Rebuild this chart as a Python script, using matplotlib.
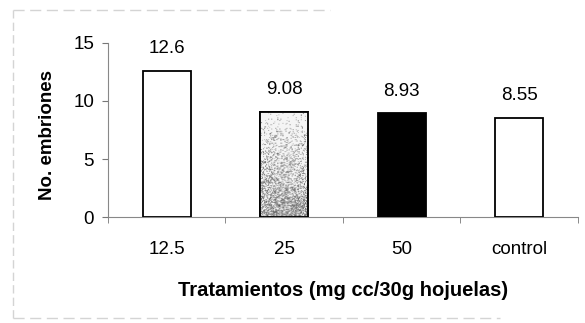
import numpy as np
import matplotlib
matplotlib.use("Agg")
import matplotlib.pyplot as plt
from matplotlib.lines import Line2D

plt.rcParams["font.family"] = ["Liberation Sans", "DejaVu Sans"]

# datos: embriones por tratamiento
tratamientos = ["12.5", "25", "50", "control"]
embriones = [12.6, 9.08, 8.93, 8.55]
etiquetas = ["12.6", "9.08", "8.93", "8.55"]
rellenos = ["white", "#e0e0e0", "black", "white"]

fig = plt.figure(figsize=(5.85, 3.23), dpi=100)
ax = fig.add_axes([0.1846, 0.328, 0.8034, 0.539])

x = np.arange(len(tratamientos))
barras = ax.bar(x, embriones, width=0.41, color=rellenos,
                edgecolor="black", linewidth=1.3, zorder=3)

# textura punteada de la barra de 25 (más densa abajo)
b = barras[1]
rng = np.random.default_rng(3)
h, w = 150, 48
grad = np.linspace(0.05, 0.75, h)[:, None] ** 1.3
ruido = rng.random((h, w))
tex = np.where(ruido < grad, 0.35 + 0.35 * rng.random((h, w)), 0.96)
img = ax.imshow(tex, cmap="gray", vmin=0, vmax=1, aspect="auto",
                extent=[b.get_x(), b.get_x() + b.get_width(), 0, b.get_height()],
                origin="upper", zorder=3.5, interpolation="bilinear")
img.set_clip_path(b)
ax.bar(x[1], embriones[1], width=0.41, fill=False, edgecolor="black",
       linewidth=1.3, zorder=4)

for xi, v, t in zip(x, embriones, etiquetas):
    ax.annotate(t, (xi, v), xytext=(0, 10), textcoords="offset points",
                ha="center", va="bottom", fontsize=13.5)

ax.set_xlim(-0.5, 3.5)
ax.set_ylim(0, 15)
ax.set_yticks([0, 5, 10, 15])
ax.set_xticks(x)
ax.set_xticklabels(tratamientos)
ax.set_xticks(np.arange(-0.5, 4.0, 1.0), minor=True)
ax.tick_params(axis="x", which="major", length=0, pad=17, labelsize=13.5)
ax.tick_params(axis="x", which="minor", length=4, color="#777777", direction="out")
ax.tick_params(axis="y", length=4, color="#777777", labelsize=13.5, pad=6)

for s in ["top", "right"]:
    ax.spines[s].set_visible(False)
for s in ["left", "bottom"]:
    ax.spines[s].set_color("#888888")
    ax.spines[s].set_linewidth(0.8)

fig.text(343 / 585, 1 - 290 / 323, "Tratamientos (mg cc/30g hojuelas)",
         ha="center", va="center", fontsize=14.5, fontweight="bold")
fig.text(47 / 585, 1 - 135 / 323, "No. embriones", rotation=90,
         ha="center", va="center", fontsize=13.5, fontweight="bold")

# marco tenue del área del gráfico
gris = "#d4d4d4"
fig.add_artist(Line2D([13 / 585, 13 / 585], [1 - 318 / 323, 1 - 10 / 323],
                      transform=fig.transFigure, color=gris, lw=1, ls=(0, (6, 3))))
fig.add_artist(Line2D([13 / 585, 330 / 585], [1 - 10 / 323, 1 - 10 / 323],
                      transform=fig.transFigure, color=gris, lw=1, ls=(0, (8, 4))))
fig.add_artist(Line2D([13 / 585, 500 / 585], [1 - 318 / 323, 1 - 318 / 323],
                      transform=fig.transFigure, color=gris, lw=1, ls=(0, (8, 4))))

fig.savefig("out.png", dpi=100)
